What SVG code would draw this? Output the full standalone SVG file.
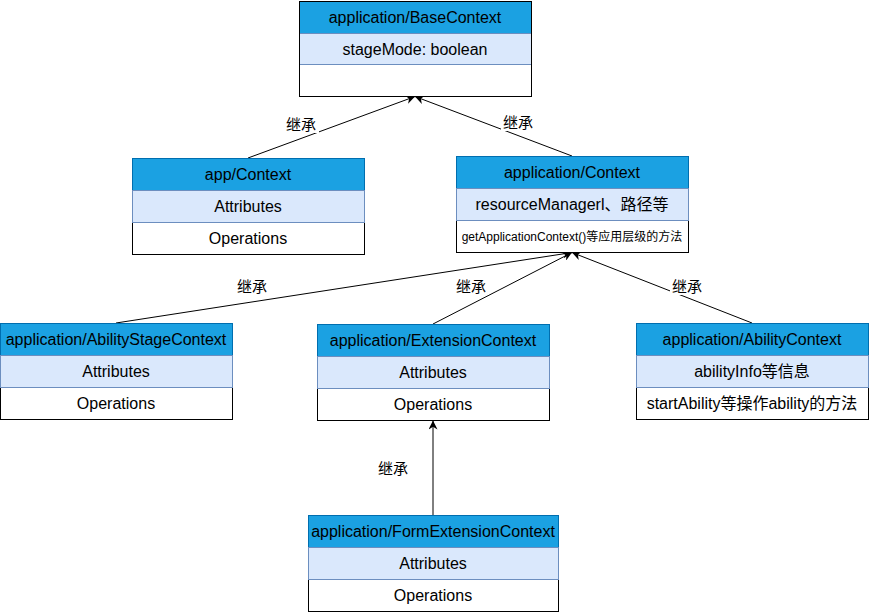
<svg xmlns="http://www.w3.org/2000/svg" width="869" height="612" viewBox="0 0 869 612">
<style>
.hd{fill:#1ba1e2;stroke:#006eaf;stroke-width:1}
.at{fill:#dae8fc;stroke:#6c8ebf;stroke-width:1}
.op{fill:#ffffff;stroke:#000000;stroke-width:1}
text{font-family:"Liberation Sans","Noto Sans CJK SC",sans-serif;font-size:16px;fill:#000;text-anchor:middle;dominant-baseline:central}
.sm{font-size:12px}
.lbl{font-size:15px}
.edge{stroke:#000;stroke-width:1;fill:none;marker-end:url(#arr)}
</style>
<defs>
<marker id="arr" viewBox="0 0 10 10" refX="10" refY="5" markerWidth="9" markerHeight="9" markerUnits="userSpaceOnUse" orient="auto">
<path d="M0,0 L10,5 L0,10 L3,5 Z" fill="#000"/>
</marker>
</defs>
<rect width="869" height="612" fill="#fff"/>
<g id="connectors">
<line class="edge" x1="248" y1="158" x2="415" y2="96.5"/>
<line class="edge" x1="572" y1="156" x2="415" y2="96.5"/>
<line class="edge" x1="116" y1="323" x2="572" y2="252.5"/>
<line class="edge" x1="433" y1="324" x2="572" y2="252.5"/>
<line class="edge" x1="752" y1="323" x2="572" y2="252.5"/>
<line class="edge" x1="433" y1="515" x2="433" y2="420.5"/>
<rect x="284" y="115" width="35" height="18" fill="#fff"/>
<text class="lbl" x="301" y="124">继承</text>
<rect x="501" y="113" width="35" height="18" fill="#fff"/>
<text class="lbl" x="518" y="122">继承</text>
<rect x="235" y="277" width="35" height="18" fill="#fff"/>
<text class="lbl" x="252" y="286">继承</text>
<rect x="454" y="277" width="35" height="18" fill="#fff"/>
<text class="lbl" x="471" y="286">继承</text>
<rect x="670" y="277" width="35" height="18" fill="#fff"/>
<text class="lbl" x="687" y="286">继承</text>
<text class="lbl" x="393" y="468">继承</text>
</g>
<g id="baseContext">
<rect class="op" x="299.5" y="1.5" width="232" height="95"/>
<rect class="hd" x="299.5" y="1.5" width="232" height="32"/>
<rect class="at" x="299.5" y="33.5" width="232" height="31"/>
<rect x="299.5" y="1.5" width="232" height="95" fill="none" stroke="#000"/>
<text x="415" y="17">application/BaseContext</text>
<text x="415" y="49">stageMode: boolean</text>
</g>
<g id="appContext">
<rect class="op" x="132.5" y="158.5" width="232" height="96"/>
<rect class="hd" x="132.5" y="158.5" width="232" height="32"/>
<rect class="at" x="132.5" y="190.5" width="232" height="32"/>
<text x="248" y="174">app/Context</text>
<text x="248" y="206">Attributes</text>
<text x="248" y="238">Operations</text>
</g>
<g id="applicationContext">
<rect class="op" x="456.5" y="156.5" width="232" height="96"/>
<rect class="hd" x="456.5" y="156.5" width="232" height="32"/>
<rect class="at" x="456.5" y="188.5" width="232" height="32"/>
<text x="572" y="172">application/Context</text>
<text x="572" y="204">resourceManagerl、路径等</text>
<text class="sm" x="572" y="237">getApplicationContext()等应用层级的方法</text>
</g>
<g id="abilityStageContext">
<rect class="op" x="0.5" y="323.5" width="232" height="96"/>
<rect class="hd" x="0.5" y="323.5" width="232" height="32"/>
<rect class="at" x="0.5" y="355.5" width="232" height="32"/>
<text x="116" y="339">application/AbilityStageContext</text>
<text x="116" y="371">Attributes</text>
<text x="116" y="403">Operations</text>
</g>
<g id="extensionContext">
<rect class="op" x="317.5" y="324.5" width="232" height="96"/>
<rect class="hd" x="317.5" y="324.5" width="232" height="32"/>
<rect class="at" x="317.5" y="356.5" width="232" height="32"/>
<text x="433" y="340">application/ExtensionContext</text>
<text x="433" y="372">Attributes</text>
<text x="433" y="404">Operations</text>
</g>
<g id="abilityContext">
<rect class="op" x="636.5" y="323.5" width="232" height="96"/>
<rect class="hd" x="636.5" y="323.5" width="232" height="32"/>
<rect class="at" x="636.5" y="355.5" width="232" height="32"/>
<text x="752" y="339">application/AbilityContext</text>
<text x="752" y="371">abilityInfo等信息</text>
<text x="752" y="403">startAbility等操作ability的方法</text>
</g>
<g id="formExtensionContext">
<rect class="op" x="308.5" y="515.5" width="250" height="96"/>
<rect class="hd" x="308.5" y="515.5" width="250" height="32"/>
<rect class="at" x="308.5" y="547.5" width="250" height="32"/>
<text x="433" y="531">application/FormExtensionContext</text>
<text x="433" y="563">Attributes</text>
<text x="433" y="595">Operations</text>
</g>
</svg>
